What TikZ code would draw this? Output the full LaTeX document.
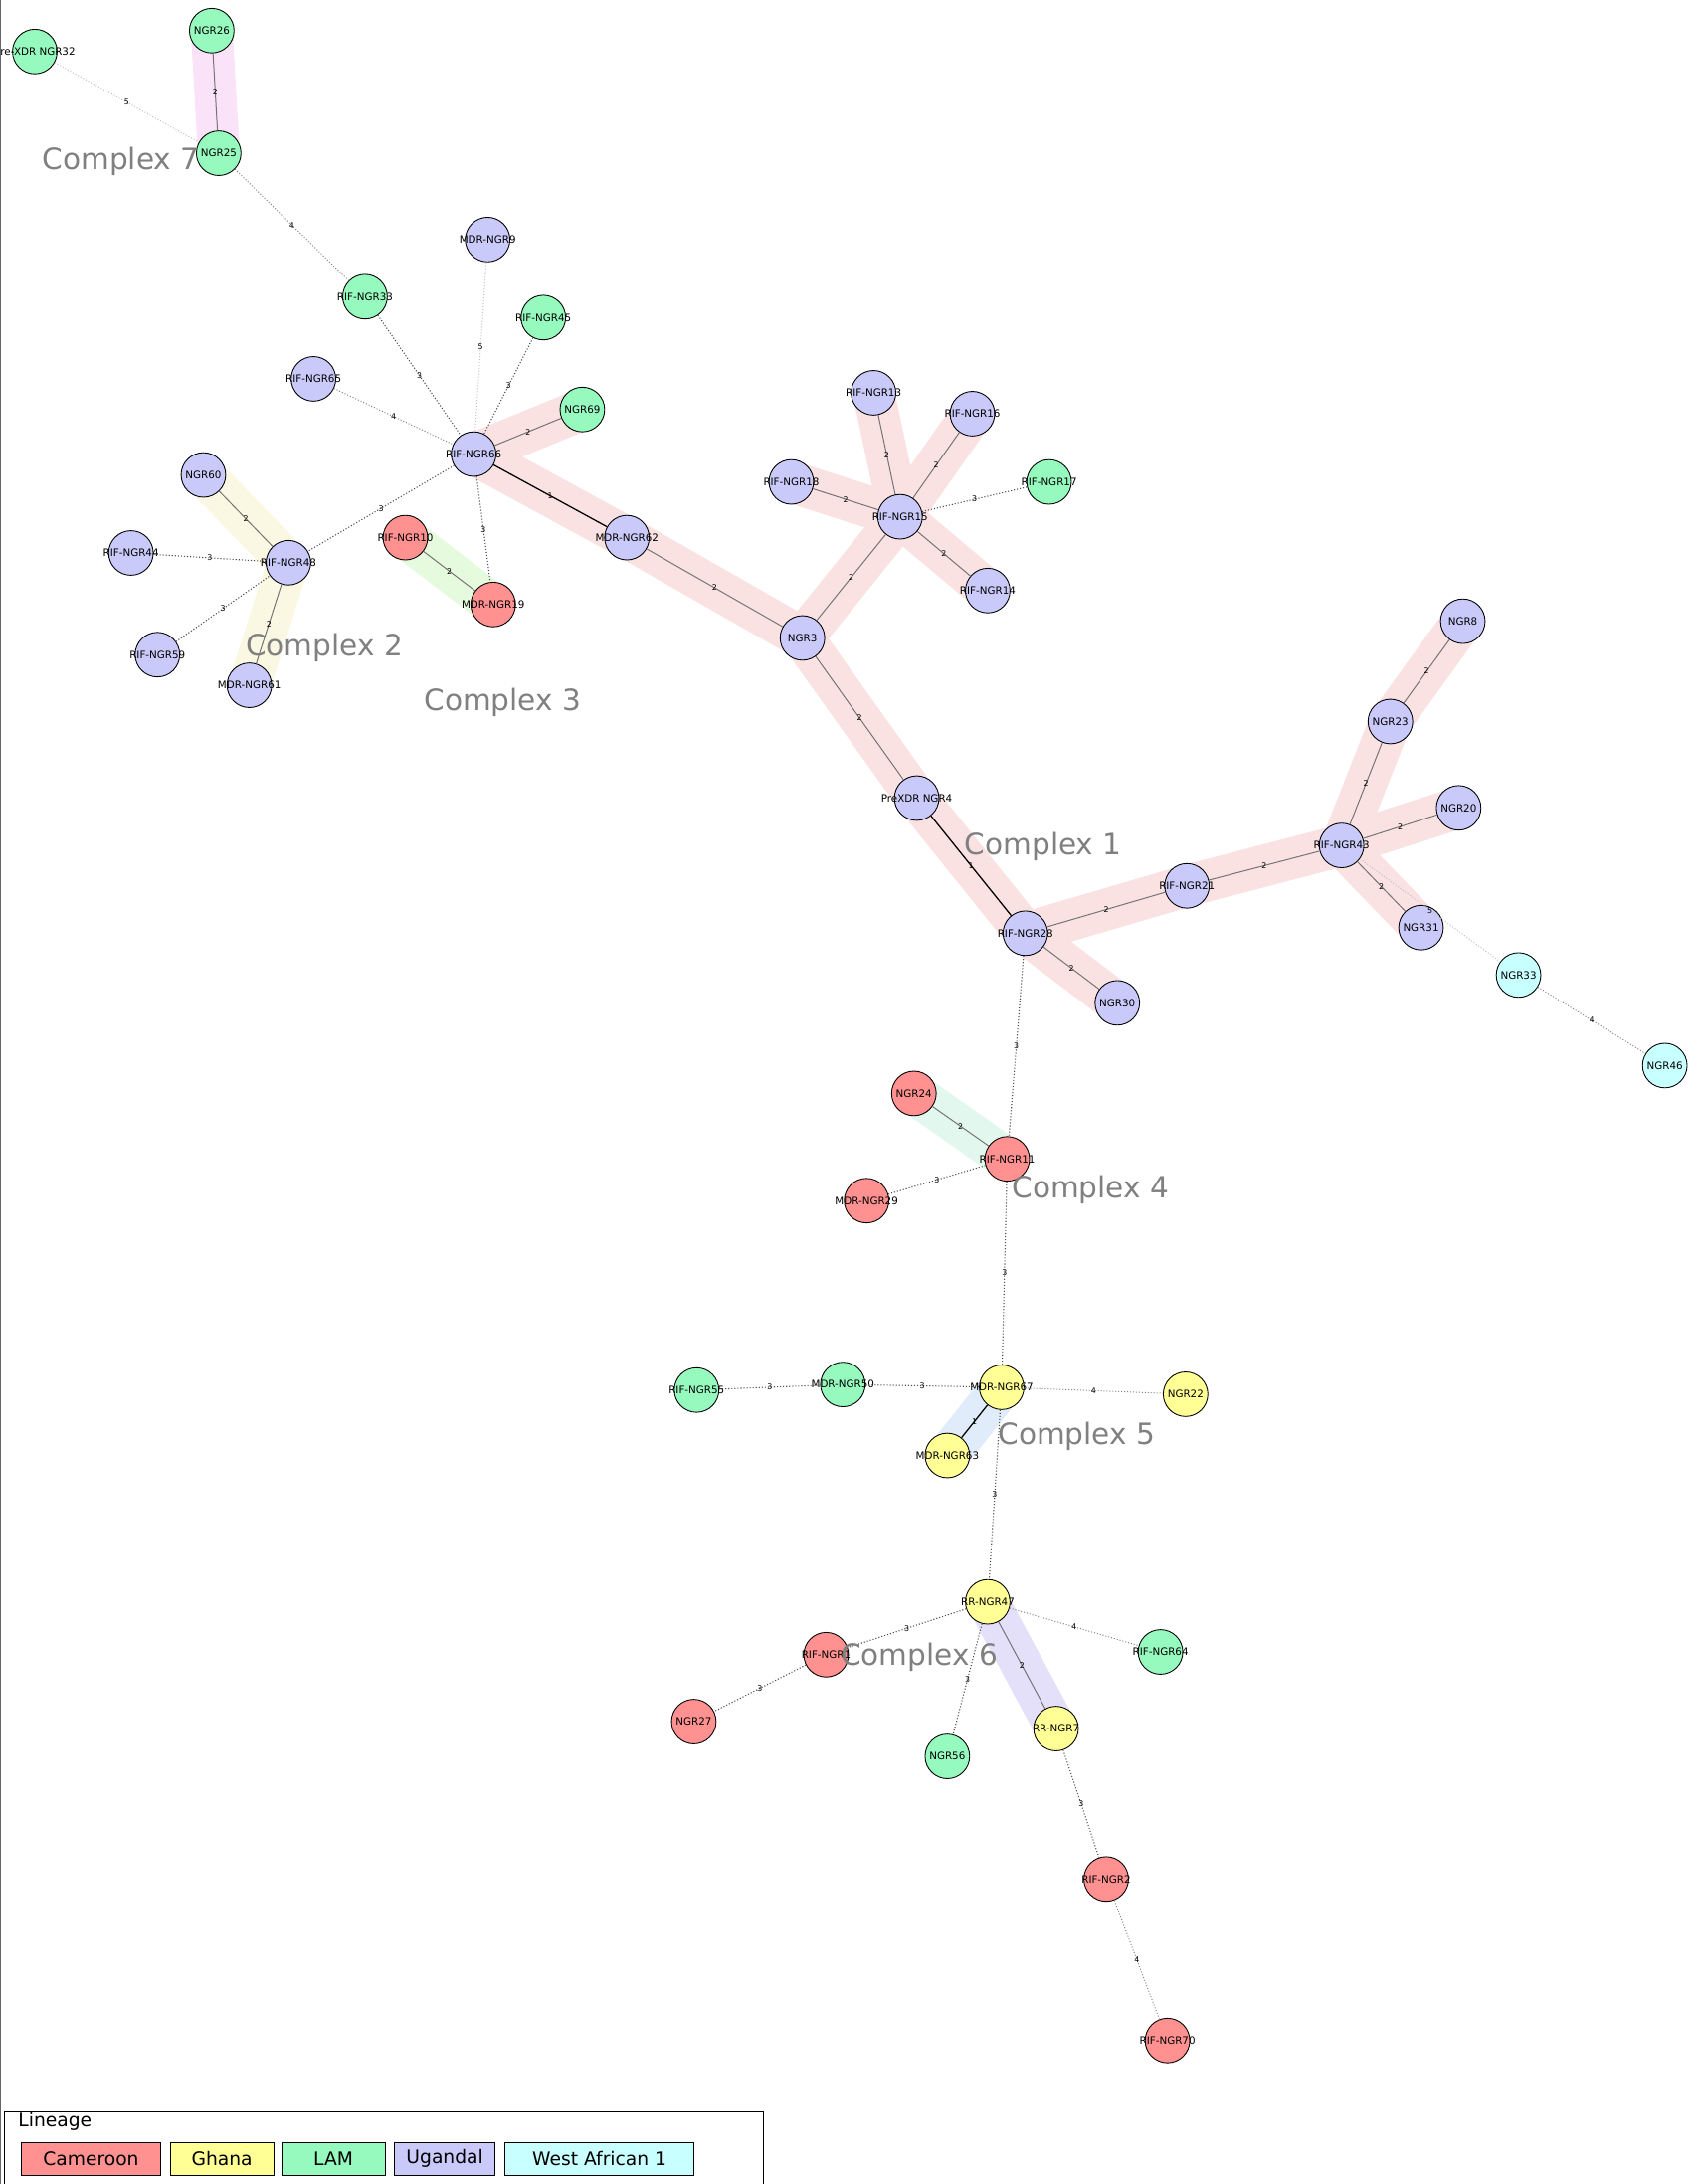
\documentclass[tikz,border=0pt]{standalone}
\usepackage{fontspec}
\setmainfont{DejaVu Sans}
\newcommand{\mb}[1]{\makebox[0pt]{#1}}
\begin{document}
\begin{tikzpicture}[x=0.05cm,y=-0.05cm,
  nd/.style={circle,draw=black,line width=0.9pt,minimum size=1.6cm,inner sep=0pt,font=\fontsize{10.5}{12}\selectfont},
  cam/.style={nd,fill=camc}, gha/.style={nd,fill=ghac}, lam/.style={nd,fill=lamc}, uga/.style={nd,fill=ugac}, waf/.style={nd,fill=wafc},
  wl/.style={font=\fontsize{8}{9}\selectfont,inner sep=0pt},
  w1/.style={draw=black,line width=1.3pt},
  w2/.style={draw=black!55,line width=1pt},
  w3/.style={draw=black!70,line width=1.1pt,dotted},
  w4/.style={draw=black!50,line width=1pt,dotted},
  w5/.style={draw=black!25,line width=1pt,dotted},
  band/.style={line width=1.5cm,line cap=round,line join=round},
  cx/.style={anchor=west,text=black!50,font=\fontsize{30}{34}\selectfont},
  lg/.style={draw=black,line width=0.8pt,minimum height=1.15cm,anchor=west,font=\fontsize{19}{22}\selectfont,inner sep=0pt}]
\definecolor{camc}{RGB}{255,145,145}
\definecolor{ghac}{RGB}{255,255,150}
\definecolor{lamc}{RGB}{150,250,190}
\definecolor{ugac}{RGB}{202,202,250}
\definecolor{wafc}{RGB}{200,255,255}
\useasboundingbox (0,0) rectangle (1223,1568);
\fill[white] (0,0) rectangle (1223,1568);
\draw[black!60,line width=1pt] (0.5,0) -- (0.5,1568);
\foreach \n/\x/\y in {a32/25/37,a26/152/22,a25/157/110,a33/262/213,a9/350/172,a45/390/228,a65/225/272,a69/418/294,a66/340/326,a60/146/341,a48/207/404,a44/94/397,a59/113/470,a61/179/492,a10/291/386,a19/354/434,a62/450/386,a3/576/458,a15/646/371,a13/627/282,a16/698/297,a17/753/346,a18/568/346,a14/709/424,a4/658/573,a28/736/670,a30/802/720,a21/852/636,a43/963/607,a23/998/518,a8/1050/446,a20/1047/580,a31/1020/666,a33b/1090/700,a46/1195/765,a24/656/785,a11/723/832,a29/622/862,a67/719/996,a22/851/1001,a50/605/994,a55/500/998,a63/680/1045,a47/709/1150,a1/593/1188,a27/498/1236,a56/680/1261,a7/758/1241,a64/833/1186,a2/794/1349,a70/838/1465}
  {\coordinate (\n) at (\x,\y);}
\draw[band,draw={rgb,255:red,250;green,226;blue,226}] (a69)--(a66)--(a62)--(a3)--(a15)--(a13) (a15)--(a16) (a15)--(a18) (a15)--(a14) (a3)--(a4)--(a28)--(a21)--(a43)--(a23)--(a8) (a43)--(a20) (a43)--(a31) (a28)--(a30);
\draw[band,draw={rgb,255:red,250;green,248;blue,226}] (a60)--(a48)--(a61);
\draw[band,draw={rgb,255:red,230;green,250;blue,222}] (a10)--(a19);
\draw[band,draw={rgb,255:red,226;green,248;blue,238}] (a24)--(a11);
\draw[band,draw={rgb,255:red,224;green,236;blue,250}] (a67)--(a63);
\draw[band,draw={rgb,255:red,228;green,224;blue,250}] (a47)--(a7);
\draw[band,draw={rgb,255:red,250;green,226;blue,248}] (a26)--(a25);
\node[lam] (n32) at (a32) {\mb{Pre-XDR NGR32}};
\node[lam] (n26) at (a26) {\mb{NGR26}};
\node[lam] (n25) at (a25) {\mb{NGR25}};
\node[lam] (n33) at (a33) {\mb{RIF-NGR33}};
\node[uga] (n9) at (a9) {\mb{MDR-NGR9}};
\node[lam] (n45) at (a45) {\mb{RIF-NGR45}};
\node[uga] (n65) at (a65) {\mb{RIF-NGR65}};
\node[lam] (n69) at (a69) {\mb{NGR69}};
\node[uga] (n66) at (a66) {\mb{RIF-NGR66}};
\node[uga] (n60) at (a60) {\mb{NGR60}};
\node[uga] (n48) at (a48) {\mb{RIF-NGR48}};
\node[uga] (n44) at (a44) {\mb{RIF-NGR44}};
\node[uga] (n59) at (a59) {\mb{RIF-NGR59}};
\node[uga] (n61) at (a61) {\mb{MDR-NGR61}};
\node[cam] (n10) at (a10) {\mb{RIF-NGR10}};
\node[cam] (n19) at (a19) {\mb{MDR-NGR19}};
\node[uga] (n62) at (a62) {\mb{MDR-NGR62}};
\node[uga] (n3) at (a3) {\mb{NGR3}};
\node[uga] (n15) at (a15) {\mb{RIF-NGR15}};
\node[uga] (n13) at (a13) {\mb{RIF-NGR13}};
\node[uga] (n16) at (a16) {\mb{RIF-NGR16}};
\node[lam] (n17) at (a17) {\mb{RIF-NGR17}};
\node[uga] (n18) at (a18) {\mb{RIF-NGR18}};
\node[uga] (n14) at (a14) {\mb{RIF-NGR14}};
\node[uga] (n4) at (a4) {\mb{PreXDR NGR4}};
\node[uga] (n28) at (a28) {\mb{RIF-NGR28}};
\node[uga] (n30) at (a30) {\mb{NGR30}};
\node[uga] (n21) at (a21) {\mb{RIF-NGR21}};
\node[uga] (n43) at (a43) {\mb{RIF-NGR43}};
\node[uga] (n23) at (a23) {\mb{NGR23}};
\node[uga] (n8) at (a8) {\mb{NGR8}};
\node[uga] (n20) at (a20) {\mb{NGR20}};
\node[uga] (n31) at (a31) {\mb{NGR31}};
\node[waf] (n33b) at (a33b) {\mb{NGR33}};
\node[waf] (n46) at (a46) {\mb{NGR46}};
\node[cam] (n24) at (a24) {\mb{NGR24}};
\node[cam] (n11) at (a11) {\mb{RIF-NGR11}};
\node[cam] (n29) at (a29) {\mb{MDR-NGR29}};
\node[gha] (n67) at (a67) {\mb{MDR-NGR67}};
\node[gha] (n22) at (a22) {\mb{NGR22}};
\node[lam] (n50) at (a50) {\mb{MDR-NGR50}};
\node[lam] (n55) at (a55) {\mb{RIF-NGR55}};
\node[gha] (n63) at (a63) {\mb{MDR-NGR63}};
\node[gha] (n47) at (a47) {\mb{RR-NGR47}};
\node[cam] (n1) at (a1) {\mb{RIF-NGR1}};
\node[cam] (n27) at (a27) {\mb{NGR27}};
\node[lam] (n56) at (a56) {\mb{NGR56}};
\node[gha] (n7) at (a7) {\mb{RR-NGR7}};
\node[lam] (n64) at (a64) {\mb{RIF-NGR64}};
\node[cam] (n2) at (a2) {\mb{RIF-NGR2}};
\node[cam] (n70) at (a70) {\mb{RIF-NGR70}};
\foreach \a/\b/\w in {n32/n25/5,n26/n25/2,n25/n33/4,n33/n66/3,n9/n66/5,n45/n66/3,n65/n66/4,n69/n66/2,n66/n62/1,n66/n48/3,n66/n19/3,n10/n19/2,n60/n48/2,n44/n48/3,n59/n48/3,n61/n48/2,n62/n3/2,n3/n15/2,n15/n13/2,n15/n16/2,n15/n18/2,n15/n14/2,n15/n17/3,n3/n4/2,n4/n28/1,n28/n21/2,n28/n30/2,n21/n43/2,n43/n23/2,n23/n8/2,n43/n20/2,n43/n31/2,n43/n33b/5,n33b/n46/4,n28/n11/3,n24/n11/2,n29/n11/3,n11/n67/3,n55/n50/3,n50/n67/3,n67/n22/4,n67/n63/1,n67/n47/3,n47/n1/3,n1/n27/3,n47/n56/3,n47/n7/2,n47/n64/4,n7/n2/3,n2/n70/4}
  {\draw[w\w] (\a) -- node[wl]{\w} (\b);}
\node[cx] at (28,116) {Complex 7};
\node[cx] at (174,465) {Complex 2};
\node[cx] at (302,504) {Complex 3};
\node[cx] at (690,608) {Complex 1};
\node[cx] at (724,854) {Complex 4};
\node[cx] at (714,1031) {Complex 5};
\node[cx] at (601,1190) {Complex 6};
\node[draw=black,line width=0.8pt,minimum width=545*0.05cm,minimum height=52*0.05cm,anchor=north west,inner sep=0pt] (lgbox) at (3,1516) {};
\node[anchor=west,font=\fontsize{19}{22}\selectfont,inner sep=0pt] (lgt) at (13,1523) {Lineage};
\node[lg,fill=camc,minimum width=100*0.05cm] (l1) at (15,1550) {Cameroon};
\node[lg,fill=ghac,minimum width=74*0.05cm] (l2) at (122,1550) {Ghana};
\node[lg,fill=lamc,minimum width=74*0.05cm] (l3) at (202,1550) {LAM};
\node[lg,fill=ugac,minimum width=72*0.05cm] (l4) at (283,1550) {Ugandal};
\node[lg,fill=wafc,minimum width=136*0.05cm] (l5) at (362,1550) {West African 1};
\end{tikzpicture}
\end{document}
